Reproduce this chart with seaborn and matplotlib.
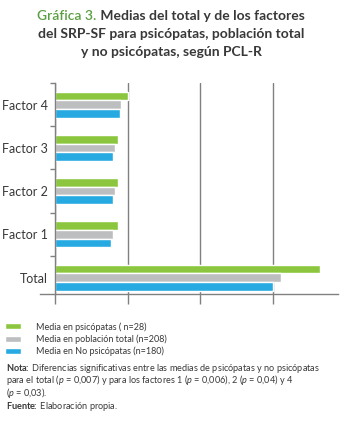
import numpy as np
import pandas as pd
import seaborn as sns
import matplotlib.pyplot as plt
from matplotlib import rcParams
from matplotlib.ticker import FixedLocator

sns.set_style('white')
rcParams['font.family'] = ['Lato', 'DejaVu Sans']
rcParams['mathtext.fontset'] = 'custom'
rcParams['mathtext.rm'] = 'Lato'
rcParams['mathtext.it'] = 'Lato:italic'
rcParams['mathtext.bf'] = 'Lato:bold'

#values (the original has no x scale, so one grid step = 20)
categories = ['Factor 4', 'Factor 3', 'Factor 2', 'Factor 1', 'Total']
series = ['Media en psicópatas ( n=28)', 'Media en población total (n=208)',
          'Media en No psicópatas (n=180)']
psicopatas = [20.0, 17.3, 17.3, 17.3, 73.1]
poblacion_total = [18.1, 16.5, 16.5, 16.0, 62.2]
no_psicopatas = [17.8, 16.0, 16.0, 15.4, 60.2]
grid_ticks = [0, 20, 40, 60]

colors = ['#8cc63f', '#bcbec0', '#27aae1']
text_color = '#383838'
line_color = '#808080'

rows = []
for ser, vals in zip(series, [psicopatas, poblacion_total, no_psicopatas]):
    for cat, v in zip(categories, vals):
        rows.append({'cat': cat, 'serie': ser, 'valor': v})
df = pd.DataFrame(rows)

fig = plt.figure(figsize=(3.45, 4.23), dpi=100)
ax = fig.add_axes([55 / 345, 1 - 294 / 423, 283 / 345, 211 / 423])

sns.barplot(data=df, y='cat', x='valor', hue='serie', order=categories, hue_order=series,
            palette=colors, orient='h', width=0.6, gap=0, saturation=1, ax=ax)

ax.set_xlim(0, 78)
ax.set_ylim(4.38, -0.5)
ax.set_xlabel('')
ax.set_ylabel('')

#spines: bottom one reaches a bit left of the y axis
for side in ['top', 'right']:
    ax.spines[side].set_visible(False)
for side in ['left', 'bottom']:
    ax.spines[side].set_color(line_color)
    ax.spines[side].set_linewidth(1)
ax.spines['bottom'].set_bounds(-4.1, 78)

ax.set_xticks(grid_ticks)
ax.set_xticklabels([])
ax.tick_params(axis='x', direction='out', length=7, width=1, color=line_color, bottom=True)
ax.grid(axis='x', color=line_color, linewidth=1)
ax.set_axisbelow(True)

ax.yaxis.set_minor_locator(FixedLocator(np.arange(-0.5, 4, 1.0)))
ax.tick_params(axis='y', which='major', length=0, pad=5, labelsize=9, labelcolor=text_color, left=True)
ax.tick_params(axis='y', which='minor', direction='out', length=3.6, width=1, color=line_color, left=True)

#legend below the chart
handles, labels = ax.get_legend_handles_labels()
ax.legend().remove()
fig.legend(handles, labels, loc='upper left', bbox_to_anchor=(5 / 345, 1 - 322 / 423),
           frameon=False, fontsize=6.5, handlelength=1.75, handleheight=0.65, handletextpad=1.65,
           labelspacing=0.3, borderpad=0, borderaxespad=0, labelcolor=text_color)

fig.canvas.draw()
r = fig.canvas.get_renderer()

#title, first words in green
t1 = fig.text(0, 1 - 16 / 423, 'Gráfica 3.', color='#5a9e42', fontsize=10, fontweight='semibold',
              ha='left', va='center')
t2 = fig.text(0, 1 - 16 / 423, ' Medias del total y de los factores', color=text_color, fontsize=10,
              fontweight='bold', ha='left', va='center')
w1 = t1.get_window_extent(r).width
w2 = t2.get_window_extent(r).width
x0 = 171 - (w1 + w2) / 2
t1.set_x(x0 / 345)
t2.set_x((x0 + w1) / 345)
fig.text(171 / 345, 1 - 34 / 423, 'del SRP-SF para psicópatas, población total', color=text_color,
         fontsize=10, fontweight='bold', ha='center', va='center')
fig.text(171 / 345, 1 - 52.5 / 423, 'y no psicópatas, según PCL-R', color=text_color,
         fontsize=10, fontweight='bold', ha='center', va='center')

#footnotes: the note is one block of text so its lines stay together
#(va='baseline' puts the last line's baseline at y)
note_size = 6.6
nota_text = (r'$\mathbf{Nota}\!\!\mathbf{:}$ Diferencias significativas entre las medias de psicópatas y no psicópatas'
             '\n'
             r'para el total ($p$ = 0,007) y para los factores 1 ($p$ = 0,006), 2 ($p$ = 0,04) y 4'
             '\n'
             r'($p$ = 0,03).')
fig.text(6 / 345, 1 - 395.5 / 423, nota_text, color=text_color, fontsize=note_size,
         ha='left', va='baseline', linespacing=0.85)
fig.text(6 / 345, 1 - 409 / 423, r'$\mathbf{Fuente}\!\!\mathbf{:}$ Elaboración propia.', color=text_color,
         fontsize=note_size, ha='left', va='baseline')

plt.savefig('out.png', dpi=100)
plt.close()
